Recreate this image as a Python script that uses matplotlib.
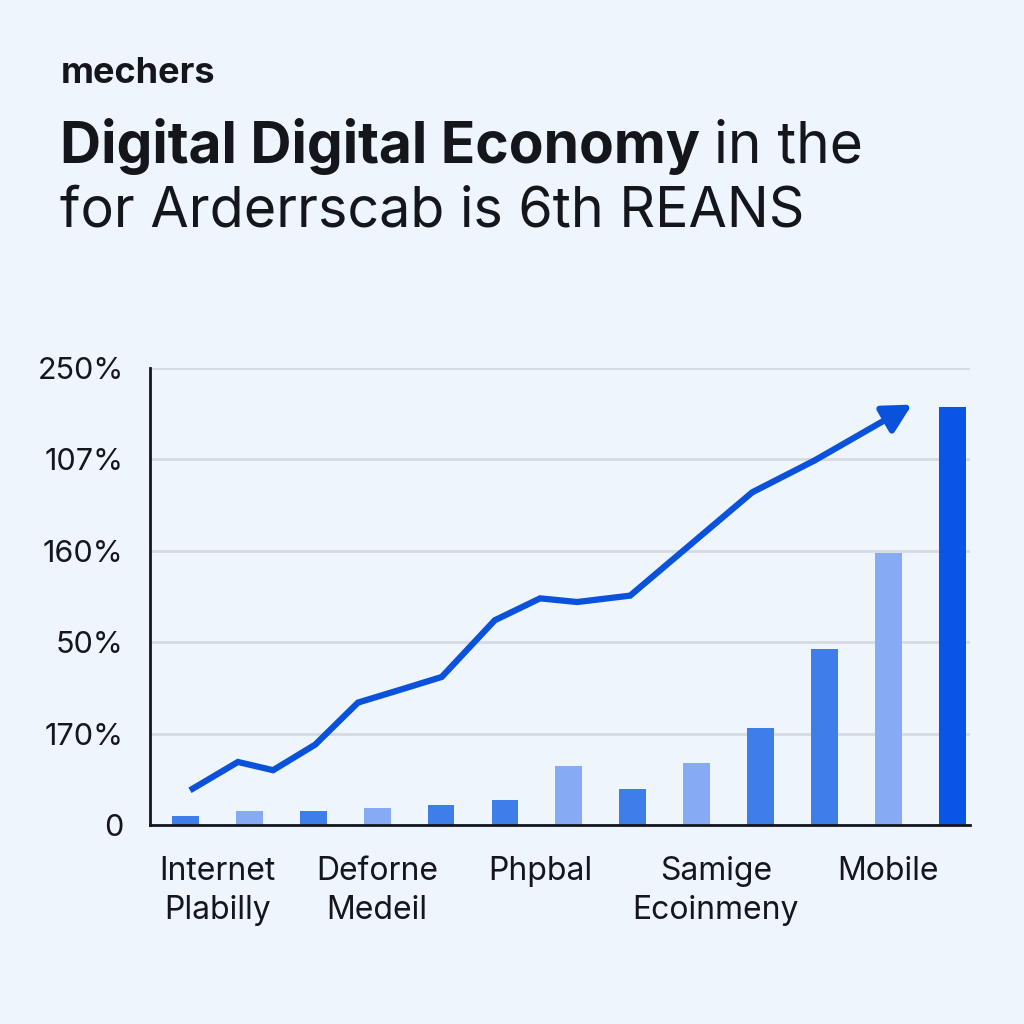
import matplotlib.pyplot as plt
import numpy as np

# bar data (13 bars)
bar_vals = [0.10, 0.15, 0.15, 0.19, 0.22, 0.27, 0.65, 0.39, 0.68, 1.06, 1.93, 2.98, 4.57]
bar_kind = ['m', 'l', 'm', 'l', 'm', 'm', 'l', 'm', 'l', 'm', 'm', 'l', 'd']

# trend line (x in bar-index units)
line_x = [0.07, 0.82, 1.37, 2.03, 2.70, 3.36, 4.01, 4.84, 5.55, 6.13, 6.96, 8.87, 9.85, 11.37]
line_y = [0.38, 0.69, 0.60, 0.88, 1.34, 1.48, 1.62, 2.24, 2.48, 2.44, 2.51, 3.64, 3.99, 4.60]

ytick_pos = [0, 1, 2, 3, 4, 5]
ytick_lab = ['0', '170%', '50%', '160%', '107%', '250%']
xtick_pos = [0.5, 3.0, 5.55, 8.3, 11.0]
xtick_lab = ['Internet\nPlabilly', 'Deforne\nMedeil', 'Phpbal', 'Samige\nEcoinmeny', 'Mobile']

bg = '#EEF5FC'
cols = {'m': '#3F7DEB', 'l': '#86AAF3', 'd': '#0A55E6'}
line_col = '#0A52DC'
ink = '#14161C'

plt.rcParams['font.family'] = ['Inter', 'DejaVu Sans']

fig = plt.figure(figsize=(10.24, 10.24), dpi=100, facecolor=bg)
ax = fig.add_axes([0.1465, 0.1943, 0.8008, 0.4463])
ax.set_facecolor(bg)

x = np.arange(len(bar_vals))
ax.bar(x, bar_vals, width=0.42, color=[cols[k] for k in bar_kind], zorder=2)

ax.plot(line_x[:-1], line_y[:-1], color=line_col, lw=4.5, solid_capstyle='butt',
        solid_joinstyle='miter', zorder=3)
ax.annotate('', xy=(line_x[-1], line_y[-1]), xytext=(line_x[-2], line_y[-2]),
            arrowprops=dict(arrowstyle='-|>,head_length=1.7,head_width=0.9', color=line_col,
                            lw=4.5, shrinkA=0, shrinkB=0), zorder=3)

ax.set_xlim(-0.556, 12.28)
ax.set_ylim(0, 5)
ax.set_yticks(ytick_pos)
ax.set_yticklabels(ytick_lab, fontsize=22, color=ink)
ax.set_xticks(xtick_pos)
ax.set_xticklabels(xtick_lab, fontsize=23, color=ink, linespacing=1.35)
ax.tick_params(axis='both', length=0)
ax.tick_params(axis='y', pad=19)
ax.tick_params(axis='x', pad=22)

ax.grid(axis='y', color='#D6DAE3', lw=2, zorder=1)
ax.set_axisbelow(True)
for s in ['top', 'right']:
    ax.spines[s].set_visible(False)
ax.spines['left'].set_color(ink)
ax.spines['bottom'].set_color(ink)
ax.spines['left'].set_linewidth(2)
ax.spines['bottom'].set_linewidth(2)

fig.text(0.059, 0.919, 'mechers', fontsize=26, fontweight='bold', color=ink, va='baseline')
fig.text(0.059, 0.841, 'Digital Digital Economy', fontsize=41, fontweight='bold', color=ink,
         va='baseline')
# measure bold part width so the regular part can follow it
tmp = fig.text(0.059, 0.841, 'Digital Digital Economy ', fontsize=41, fontweight='bold',
               va='baseline')
fig.canvas.draw()
bb = tmp.get_window_extent()
tmp.remove()
fig.text(bb.x1 / fig.bbox.width, 0.841, 'in the', fontsize=41, color=ink, va='baseline')
fig.text(0.059, 0.779, 'for Arderrscab is 6th REANS', fontsize=40, color=ink, va='baseline')

fig.savefig('out.png', dpi=100, facecolor=bg)
